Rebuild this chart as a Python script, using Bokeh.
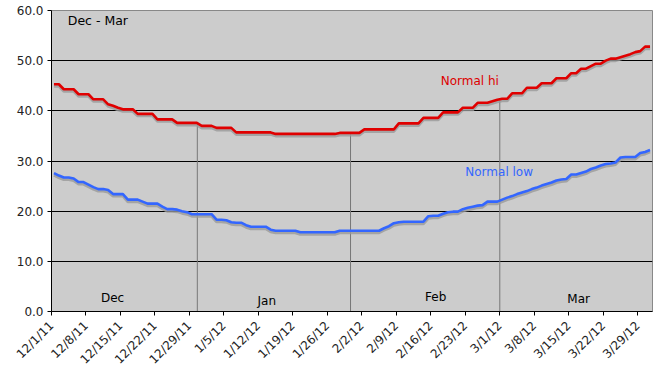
import numpy as np
import pandas as pd
from bokeh.plotting import figure
from bokeh.models import FixedTicker, Label
from bokeh.embed import file_html
from bokeh.resources import INLINE

# ---------------- data ----------------
dates = pd.date_range("2011-12-01", "2012-03-31", freq="D")

normal_hi = [45.3, 45.3, 44.3, 44.3, 44.3, 43.3, 43.3, 43.3, 42.3, 42.3,
             42.3, 41.3, 41.0, 40.6, 40.3, 40.3, 40.3, 39.4, 39.4, 39.4,
             39.4, 38.3, 38.3, 38.3, 38.3, 37.6, 37.6, 37.6, 37.6, 37.6,
             37.0, 37.0, 37.0, 36.6, 36.6, 36.6, 36.6, 35.7, 35.7, 35.7,
             35.7, 35.7, 35.7, 35.7, 35.7, 35.4, 35.4, 35.4, 35.4, 35.4,
             35.4, 35.4, 35.4, 35.4, 35.4, 35.4, 35.4, 35.4, 35.6, 35.6,
             35.6, 35.6, 35.6, 36.3, 36.3, 36.3, 36.3, 36.3, 36.3, 36.3,
             37.5, 37.5, 37.5, 37.5, 37.5, 38.6, 38.6, 38.6, 38.6, 39.7,
             39.7, 39.7, 39.7, 40.6, 40.6, 40.6, 41.6, 41.6, 41.6, 41.9,
             42.2, 42.4, 42.4, 43.5, 43.5, 43.5, 44.6, 44.6, 44.6, 45.5,
             45.5, 45.5, 46.5, 46.5, 46.5, 47.5, 47.5, 48.4, 48.4, 48.9,
             49.4, 49.4, 50.0, 50.4, 50.4, 50.7, 51.0, 51.3, 51.7, 51.9,
             52.8, 52.8]

normal_low = [27.6, 27.1, 26.7, 26.7, 26.5, 25.8, 25.8, 25.3, 24.8, 24.4,
              24.4, 24.2, 23.4, 23.4, 23.4, 22.3, 22.3, 22.3, 21.9, 21.5,
              21.5, 21.5, 20.9, 20.4, 20.4, 20.3, 20.0, 19.8, 19.4, 19.4,
              19.4, 19.4, 19.4, 18.3, 18.3, 18.2, 17.8, 17.7, 17.7, 17.2,
              16.9, 16.9, 16.9, 16.9, 16.3, 16.1, 16.1, 16.1, 16.1, 16.1,
              15.8, 15.8, 15.8, 15.8, 15.8, 15.8, 15.8, 15.8, 16.1, 16.1,
              16.1, 16.1, 16.1, 16.1, 16.1, 16.1, 16.1, 16.6, 17.0, 17.6,
              17.8, 17.9, 17.9, 17.9, 17.9, 17.9, 19.0, 19.1, 19.1, 19.5,
              19.8, 19.9, 19.9, 20.4, 20.7, 20.9, 21.1, 21.2, 21.9, 21.9,
              21.9, 22.3, 22.7, 23.0, 23.4, 23.7, 24.0, 24.4, 24.7, 25.1,
              25.4, 25.7, 26.1, 26.3, 26.4, 27.3, 27.3, 27.6, 27.9, 28.4,
              28.7, 29.1, 29.4, 29.5, 29.7, 30.7, 30.8, 30.8, 30.8, 31.6,
              31.8, 32.2]

tick_labels = ["12/1/11", "12/8/11", "12/15/11", "12/22/11", "12/29/11",
               "1/5/12", "1/12/12", "1/19/12", "1/26/12", "2/2/12",
               "2/9/12", "2/16/12", "2/23/12", "3/1/12", "3/8/12",
               "3/15/12", "3/22/12", "3/29/12"]

month_names = ["Dec", "Jan", "Feb", "Mar"]
month_divider_days = [29.6, 60.7, 91.0]

# ---------------- derived ----------------
start = dates[0]
day_idx = np.array([(d - start).days for d in dates], dtype=float)
xs = day_idx + 0.5
hi = np.array(normal_hi)
lo = np.array(normal_low)
shadow = 0.4

tick_pos = [i * 7 for i in range(len(tick_labels))]

FONT = "DejaVu Sans"

p = figure(width=663, height=377, output_backend="svg", toolbar_location=None,
           x_range=(0, 122), y_range=(0, 60),
           min_border_left=51, min_border_right=11, min_border_top=10,
           min_border_bottom=66)

p.background_fill_color = "#cccccc"
p.border_fill_color = "white"
p.outline_line_color = "#888888"

# grid
p.xgrid.grid_line_color = None
p.ygrid.grid_line_color = "black"
p.ygrid.grid_line_width = 1
p.ygrid.ticker = FixedTicker(ticks=[0, 10, 20, 30, 40, 50, 60])

# axes
p.yaxis.ticker = FixedTicker(ticks=[0, 10, 20, 30, 40, 50, 60])
p.yaxis.major_label_overrides = {v: f"{v:.1f}" for v in [0, 10, 20, 30, 40, 50, 60]}
p.xaxis.ticker = FixedTicker(ticks=tick_pos)
p.xaxis.major_label_overrides = {t: l for t, l in zip(tick_pos, tick_labels)}
p.xaxis.major_label_orientation = np.pi / 4
for ax in (p.xaxis, p.yaxis):
    ax.axis_line_color = "black"
    ax.axis_line_width = 1
    ax.major_tick_line_color = "black"
    ax.major_tick_in = 0
    ax.major_tick_out = 4
    ax.minor_tick_line_color = None
    ax.major_label_text_font = FONT
    ax.major_label_text_font_size = "12px"
    ax.major_label_text_color = "#222222"
p.yaxis.major_label_standoff = 4
p.xaxis.major_label_standoff = 8

# month dividers from axis up to the hi line
div_top = np.interp(month_divider_days, xs, hi)
p.segment(x0=month_divider_days, y0=[0] * len(month_divider_days),
          x1=month_divider_days, y1=div_top, line_color="#777777", line_width=1)

# shadows
p.line(xs, hi - shadow, line_color="#9a9a9a", line_width=3, line_alpha=0.8)
p.line(xs, lo - shadow, line_color="#9a9a9a", line_width=3, line_alpha=0.8)
# lines
p.line(xs, hi, line_color="#e00000", line_width=2.6)
p.line(xs, lo, line_color="#3366ff", line_width=2.6)

# labels
p.add_layout(Label(x=3.3, y=56.5, text="Dec - Mar", text_font=FONT,
                   text_font_size="12.5px", text_color="black"))
p.add_layout(Label(x=79.0, y=44.6, text="Normal hi", text_font=FONT,
                   text_font_size="12px", text_color="#dd0000"))
p.add_layout(Label(x=84.0, y=26.4, text="Normal low", text_font=FONT,
                   text_font_size="12px", text_color="#3366ff"))

month_label_x = [12.4, 43.7, 78.0, 107.0]
month_label_y = [2.6, 2.0, 2.8, 2.45]
for name, mx, my in zip(month_names, month_label_x, month_label_y):
    p.add_layout(Label(x=mx, y=my, text=name, text_font=FONT, text_font_size="12px",
                       text_color="black", text_align="center", text_baseline="middle"))

open("out.html", "w").write(file_html(p, INLINE))
